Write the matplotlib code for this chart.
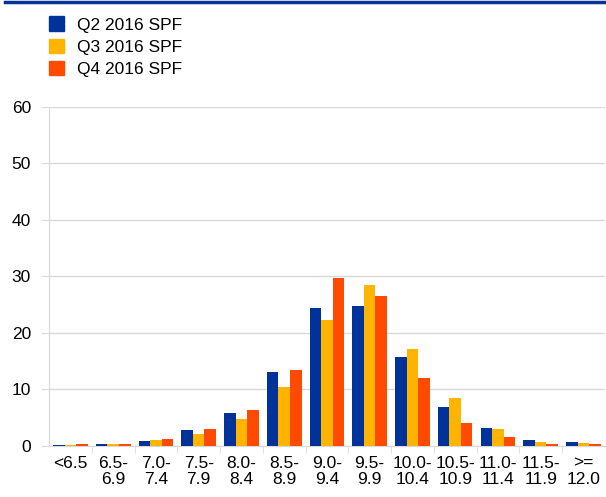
import numpy as np
import matplotlib.pyplot as plt
from matplotlib.lines import Line2D
from matplotlib.patches import Patch

plt.rcParams['font.family'] = ['Liberation Sans', 'DejaVu Sans']
plt.rcParams['font.size'] = 12.5

categories = ['<6.5', '6.5-\n6.9', '7.0-\n7.4', '7.5-\n7.9', '8.0-\n8.4', '8.5-\n8.9',
              '9.0-\n9.4', '9.5-\n9.9', '10.0-\n10.4', '10.5-\n10.9', '11.0-\n11.4',
              '11.5-\n11.9', '>=\n12.0']
series_names = ['Q2 2016 SPF', 'Q3 2016 SPF', 'Q4 2016 SPF']
q2 = [0.1, 0.3, 0.9, 2.8, 5.8, 13.0, 24.4, 24.8, 15.7, 6.9, 3.1, 1.0, 0.6]
q3 = [0.1, 0.3, 1.0, 2.1, 4.8, 10.4, 22.3, 28.4, 17.1, 8.5, 3.0, 0.7, 0.45]
q4 = [0.3, 0.4, 1.2, 2.9, 6.3, 13.4, 29.7, 26.6, 12.0, 4.1, 1.5, 0.4, 0.3]
colors = ['#003399', '#FFB400', '#FF4B00']

fig = plt.figure(figsize=(6.06, 4.97), dpi=100)
ax = fig.add_axes([0.081, 0.103, 0.917, 0.682])

x = np.arange(len(categories))
w = 0.27
for i, (vals, c) in enumerate(zip([q2, q3, q4], colors)):
    ax.bar(x + (i - 1) * w, vals, width=w, color=c, zorder=3)

ax.set_xlim(-0.5, len(categories) - 0.5)
ax.set_ylim(0, 60)
ax.set_yticks(range(0, 61, 10))
ax.yaxis.grid(True, color='#d9d9d9', linewidth=1, zorder=0)
ax.set_xticks(x)
ax.set_xticklabels(categories, linespacing=1.1)
ax.set_xticks(np.arange(0.5, len(categories) - 0.5), minor=True)
ax.tick_params(axis='x', which='major', length=0, pad=7)
ax.tick_params(axis='x', which='minor', length=5, color='#d9d9d9')
ax.tick_params(axis='y', length=6, color='#d9d9d9', pad=7)
for s in ['top', 'right']:
    ax.spines[s].set_visible(False)
ax.spines['left'].set_color('#d9d9d9')
ax.spines['bottom'].set_color('#d9d9d9')

# top rule
fig.add_artist(Line2D([0.008, 1.0], [0.995, 0.995], color='#003399', linewidth=2.5))

handles = [Patch(color=c) for c in colors]
fig.legend(handles, series_names, loc='upper left', bbox_to_anchor=(0.063, 0.988),
           frameon=False, handlelength=0.9, handleheight=0.9, handletextpad=0.75,
           labelspacing=0.35, borderaxespad=0.2)

fig.savefig('out.png', dpi=100)
